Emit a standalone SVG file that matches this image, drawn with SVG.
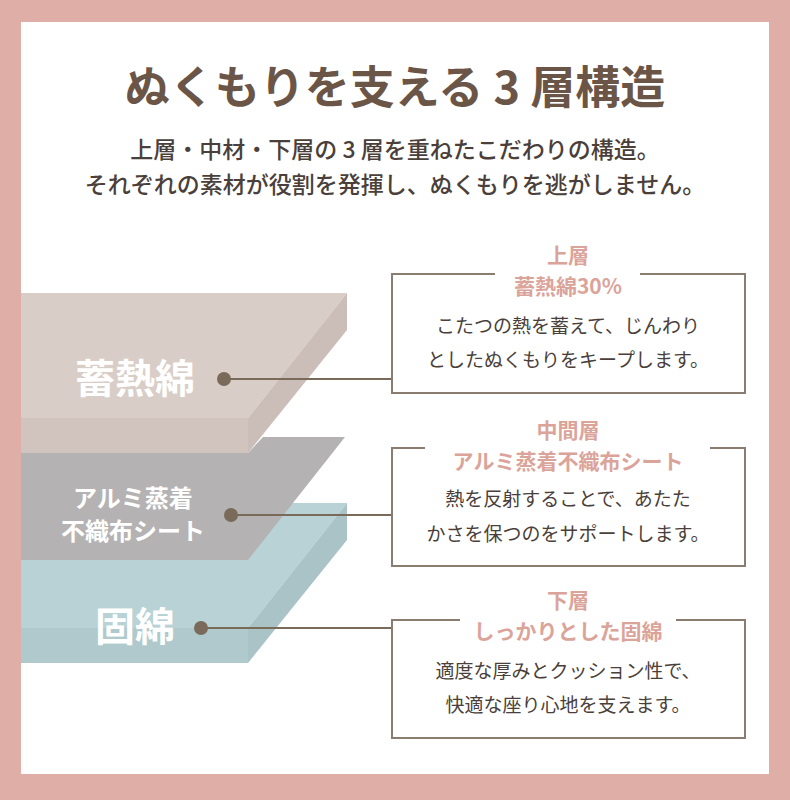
<svg xmlns="http://www.w3.org/2000/svg" width="790" height="800" viewBox="0 0 790 800">
<style>
text{font-family:"Noto Sans CJK JP","Noto Sans",sans-serif}
.ttl{font-size:45px;font-weight:700;fill:#6b5547}
.sub{font-size:23px;font-weight:500;fill:#4a3f3a}
.big{font-size:40px;font-weight:700;fill:#fff}
.mid{font-size:24px;font-weight:700;fill:#fff}
.lab{font-size:21px;font-weight:700;fill:#dba49a}
.body{font-size:19px;fill:#4a3f3a}
.box{fill:none;stroke:#8a7d70;stroke-width:2}
.con{stroke:#7a6a5a;stroke-width:2;fill:none}
.dot{fill:#7a6a5a}
</style>
<rect x="0" y="0" width="790" height="800" fill="#dfaea6"/>
<rect x="21" y="22" width="748" height="752" fill="#fff"/>
<g id="title">
<text class="ttl" x="395" y="104" text-anchor="middle">ぬくもりを支える 3 層構造</text>
<text class="sub" x="395" y="158" text-anchor="middle">上層・中材・下層の 3 層を重ねたこだわりの構造。</text>
<text class="sub" x="395" y="193" text-anchor="middle">それぞれの素材が役割を発揮し、ぬくもりを逃がしません。</text>
</g>
<g id="layer-bottom">
<polygon points="21,503 347,503 248,628 21,628" fill="#b8d2d5"/>
<rect x="21" y="628" width="227" height="35" fill="#afc9cc"/>
<polygon points="347,503 347,540 248,663 248,628" fill="#a9c3c6"/>
<text class="big" x="135" y="641" text-anchor="middle">固綿</text>
</g>
<g id="layer-middle">
<polygon points="21,453 248,453 263,437 345,437 248,560 21,560" fill="#b4b2b2"/>
<text class="mid" x="133" y="507" text-anchor="middle">アルミ蒸着</text>
<text class="mid" x="133" y="540" text-anchor="middle">不織布シート</text>
</g>
<g id="layer-top">
<polygon points="21,293 347,293 248,418 21,418" fill="#d9cdc7"/>
<rect x="21" y="418" width="227" height="35" fill="#d1c4be"/>
<polygon points="347,293 347,330 248,453 248,418" fill="#cbbdb7"/>
<text class="big" x="135" y="393" text-anchor="middle">蓄熱綿</text>
</g>
<g id="connectors">
<line class="con" x1="224" y1="379" x2="392" y2="379"/>
<line class="con" x1="231" y1="515" x2="392" y2="515"/>
<line class="con" x1="201" y1="628" x2="392" y2="628"/>
<circle class="dot" cx="224" cy="379" r="7"/>
<circle class="dot" cx="231" cy="515" r="7"/>
<circle class="dot" cx="201" cy="628" r="7"/>
</g>
<g id="box-top">
<path class="box" d="M495,274 H392 V393 H745 V274 H640"/>
<text class="lab" x="568" y="263" text-anchor="middle">上層</text>
<text class="lab" x="568" y="294" text-anchor="middle">蓄熱綿30%</text>
<text class="body" x="568" y="333" text-anchor="middle">こたつの熱を蓄えて、じんわり</text>
<text class="body" x="568" y="367" text-anchor="middle">としたぬくもりをキープします。</text>
</g>
<g id="box-middle">
<path class="box" d="M425,448 H392 V566 H745 V448 H710"/>
<text class="lab" x="568" y="438" text-anchor="middle">中間層</text>
<text class="lab" x="568" y="469" text-anchor="middle">アルミ蒸着不織布シート</text>
<text class="body" x="568" y="506" text-anchor="middle">熱を反射することで、あたた</text>
<text class="body" x="568" y="541" text-anchor="middle">かさを保つのをサポートします。</text>
</g>
<g id="box-bottom">
<path class="box" d="M460,620 H392 V738 H745 V620 H676"/>
<text class="lab" x="568" y="608" text-anchor="middle">下層</text>
<text class="lab" x="568" y="639" text-anchor="middle">しっかりとした固綿</text>
<text class="body" x="568" y="678" text-anchor="middle">適度な厚みとクッション性で、</text>
<text class="body" x="568" y="712" text-anchor="middle">快適な座り心地を支えます。</text>
</g>
</svg>
